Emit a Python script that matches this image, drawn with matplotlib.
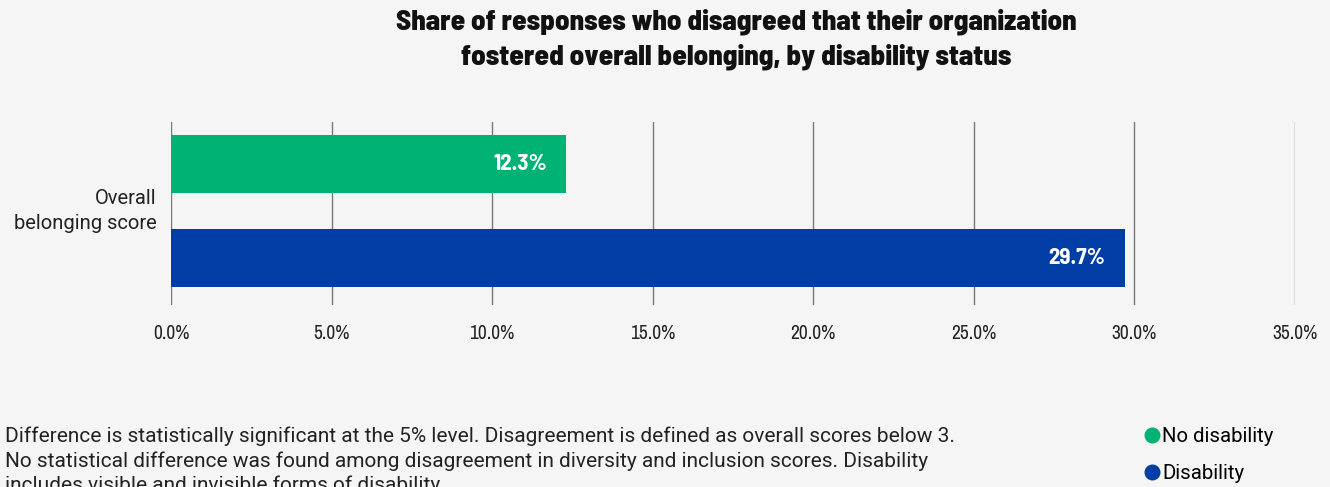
import matplotlib.pyplot as plt
from matplotlib.lines import Line2D

body = ['Roboto', 'DejaVu Sans']
plt.rcParams['font.family'] = body

# Data
category = "Overall\nbelonging score"
series = ["No disability", "Disability"]
values = [12.3, 29.7]
colors = ["#00b373", "#003da5"]
xticks = [0, 5, 10, 15, 20, 25, 30, 35]

title = ("Share of responses who disagreed that their organization\n"
         "fostered overall belonging, by disability status")
note = ("Difference is statistically significant at the 5% level. Disagreement is defined as overall scores below 3.\n"
        "No statistical difference was found among disagreement in diversity and inclusion scores. Disability\n"
        "includes visible and invisible forms of disability.")

bg = "#f5f5f5"
fig = plt.figure(figsize=(13.3, 4.87), dpi=100, facecolor=bg)
ax = fig.add_axes([0.1286, 0.3737, 0.8451, 0.3758], facecolor=bg)

# bars, top = no disability
ypos = [1, 0]
ax.barh(ypos, values, height=0.617, color=colors, zorder=3)
for y, v in zip(ypos, values):
    ax.text(v - 0.6, y, f"{v:.1f}%", color="white", fontweight="bold",
            fontsize=16.5, ha="right", va="center", zorder=4,
            family=["Barlow Semi Condensed", "DejaVu Sans"])

ax.set_xlim(0, 35)
ax.set_ylim(-0.5, 1.447)
ax.set_xticks(xticks)
ax.set_xticklabels([f"{t:.1f}%" for t in xticks], fontsize=14, color="#222222",
                   family=['Archivo Narrow', 'DejaVu Sans'])
ax.set_yticks([])
ax.grid(axis="x", color="#777777", linewidth=1, zorder=0)
ax.tick_params(axis="x", length=0, pad=14)
for s in ax.spines.values():
    s.set_visible(False)

ax.text(-0.45, 0.5, category, ha="right", va="center", fontsize=14.5,
        color="#222222", linespacing=1.4)

fig.text(0.5535, 0.92, title, ha="center", va="center", fontsize=20.9,
         fontweight="heavy", color="#111111", linespacing=1.4,
         family=["Barlow Semi Condensed", "DejaVu Sans"])

# footnote (cut at the bottom edge, as in the source)
fig.text(0.004, 0.124, note, ha="left", va="top", fontsize=15,
         color="#222222", linespacing=1.33)

handles = [Line2D([], [], marker="o", linestyle="", markersize=10.5,
                  color=c) for c in colors]
fig.legend(handles, series, loc="upper left", bbox_to_anchor=(0.854, 0.14),
           frameon=False, fontsize=14.7, handletextpad=0.1,
           labelspacing=0.9, handlelength=0.8, borderaxespad=0)

fig.savefig("out.png", dpi=100, facecolor=bg)
